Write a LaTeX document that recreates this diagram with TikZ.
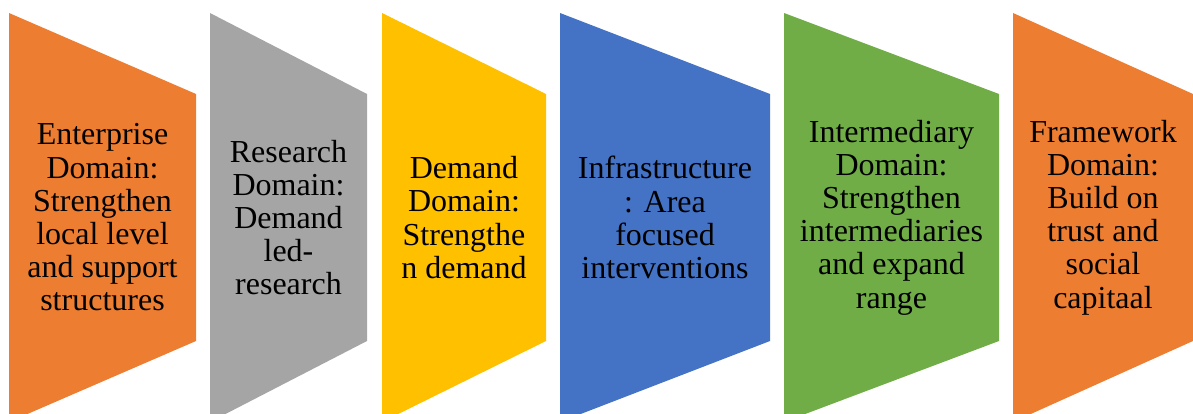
\documentclass[tikz,border=0pt]{standalone}
\usepackage{fontspec}
\setmainfont{LiberationSerif}[Extension=.ttf, UprightFont=*-Regular, BoldFont=*-Bold]
\definecolor{domorange}{HTML}{ED7D31}
\definecolor{domgray}{HTML}{A5A5A5}
\definecolor{domyellow}{HTML}{FFC000}
\definecolor{domblue}{HTML}{4472C4}
\definecolor{domgreen}{HTML}{70AD47}
\begin{document}
\begin{tikzpicture}[x=1pt, y=-1pt, domtext/.style={align=center, inner sep=0pt, font=\rmfamily\fontsize{32}{33.2}\selectfont}]
            \clip (0,0) rectangle (1193,414);
            \fill[domorange] (9,13) -- (196,94) -- (196,341) -- (9,422) -- cycle;
            \fill[domgray] (210,13) -- (367,94) -- (367,341) -- (210,422) -- cycle;
            \fill[domyellow] (382,13) -- (546,94) -- (546,341) -- (382,422) -- cycle;
            \fill[domblue] (560,13) -- (770,94) -- (770,341) -- (560,422) -- cycle;
            \fill[domgreen] (784,13) -- (999,94) -- (999,341) -- (784,422) -- cycle;
            \fill[domorange] (1013,13) -- (1193,94) -- (1193,341) -- (1013,422) -- cycle;
            \node[domtext] (enterprise) at (102.5,217.5) {Enterprise\\Domain:\\Strengthen\\local level\\and support\\structures};
            \node[domtext] (research) at (288.5,217.5) {Research\\Domain:\\Demand\\led-\\research};
            \node[domtext] (demand) at (464,217.5) {Demand\\Domain:\\Strengthe\\n demand};
            \node[domtext] (infra) at (665,217.5) {Infrastructure\\: Area\\focused\\interventions};
            \node[domtext] (intermediary) at (891.5,217.5) {Intermediary\\Domain:\\Strengthen\\intermediaries\\and expand\\range};
            \node[domtext] (framework) at (1103,217.5) {Framework\\Domain:\\Build on\\trust and\\social\\capitaal};
        \end{tikzpicture}
\end{document}
